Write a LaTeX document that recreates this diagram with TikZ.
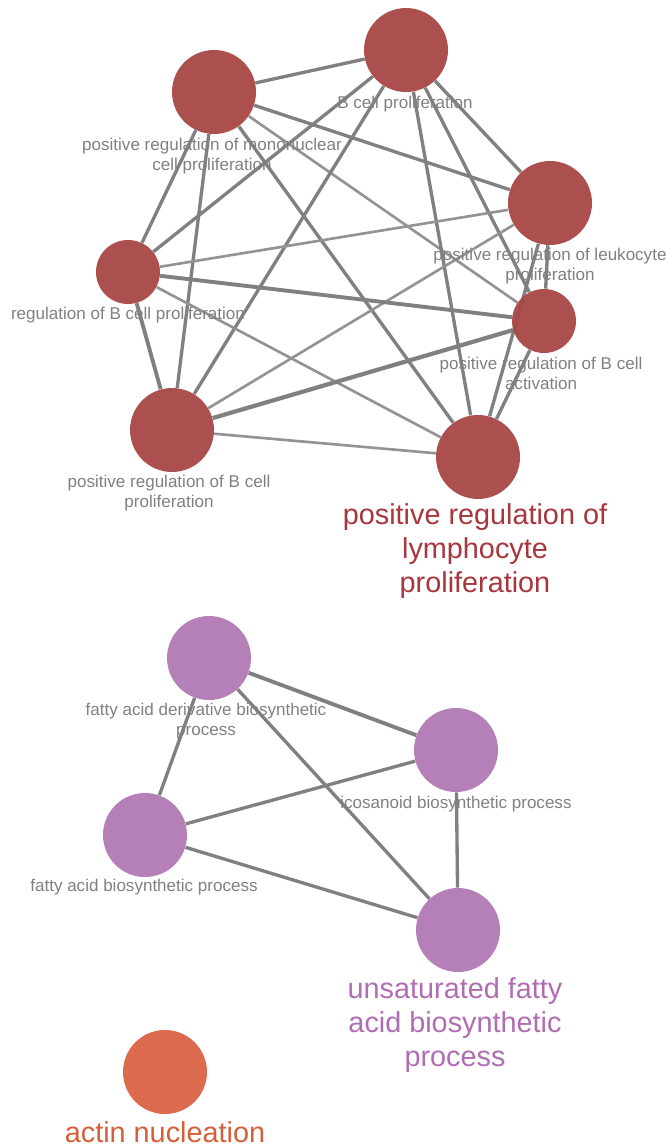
\documentclass[tikz,border=0pt]{standalone}
\usepackage{fontspec}
\setmainfont{Liberation Sans}
\usetikzlibrary{backgrounds}
\definecolor{termred}{HTML}{A84646}
\definecolor{textred}{HTML}{A8363D}
\definecolor{termpurple}{HTML}{B178B3}
\definecolor{textpurple}{HTML}{B06DB3}
\definecolor{termorange}{HTML}{D96244}
\definecolor{textorange}{HTML}{D45F3B}
\definecolor{linkgrey}{HTML}{808080}
\definecolor{lblgrey}{HTML}{808080}
\tikzset{
	term/.style={circle, minimum size=1.68cm, inner sep=0pt, fill opacity=0.95},
	smallterm/.style={term, minimum size=1.28cm},
	link/.style={draw=linkgrey, line width=1.9pt},
	thinlink/.style={draw=linkgrey!85, line width=1.5pt},
	lbl/.style={align=center, text=lblgrey, font=\fontsize{9.7}{11.4}\selectfont, inner sep=0pt},
	biglbl/.style={align=center, font=\fontsize{16.4}{19.4}\selectfont, inner sep=0pt}
}
\begin{document}
\begin{tikzpicture}[x=0.02cm, y=-0.02cm]
	\useasboundingbox (0, 0) rectangle (666, 1146);
	% Nodes:
	\node[term, fill=termred] (mono) at (214, 92){};
	\node[term, fill=termred] (bprol) at (406, 50){};
	\node[term, fill=termred] (leuko) at (550, 203){};
	\node[smallterm, fill=termred] (regb) at (128, 272){};
	\node[smallterm, fill=termred] (bact) at (544, 321){};
	\node[term, fill=termred] (posb) at (172, 430){};
	\node[term, fill=termred] (lympho) at (478, 457){};
	\node[term, fill=termpurple] (fderiv) at (209, 658){};
	\node[term, fill=termpurple] (icosa) at (456, 750){};
	\node[term, fill=termpurple] (fatty) at (145, 835){};
	\node[term, fill=termpurple] (unsat) at (458, 930){};
	\node[term, fill=termorange] (actin) at (165, 1072){};
	% Edges:
	\begin{pgfonlayer}{background}
		\draw[link] (mono) -- (bprol);
		\draw[link] (mono) -- (leuko);
		\draw[link] (mono) -- (regb);
		\draw[link] (mono) -- (posb);
		\draw[link] (mono) -- (lympho);
		\draw[thinlink] (mono) -- (bact);
		\draw[link] (bprol) -- (regb);
		\draw[link] (bprol) -- (posb);
		\draw[link] (bprol) -- (lympho);
		\draw[link] (bprol) -- (bact);
		\draw[link] (bprol) -- (leuko);
		\draw[thinlink] (leuko) -- (regb);
		\draw[thinlink] (leuko) -- (posb);
		\draw[link] (leuko) -- (bact);
		\draw[link] (leuko) -- (lympho);
		\draw[link, line width=2.2pt] (regb) -- (bact);
		\draw[link, line width=2.2pt] (regb) -- (posb);
		\draw[thinlink] (regb) -- (lympho);
		\draw[link, line width=2.4pt] (posb) -- (bact);
		\draw[thinlink] (posb) -- (lympho);
		\draw[link] (bact) -- (lympho);
		\draw[link, line width=2.2pt] (fderiv) -- (icosa);
		\draw[link] (fderiv) -- (fatty);
		\draw[link] (fderiv) -- (unsat);
		\draw[link] (icosa) -- (fatty);
		\draw[link] (icosa) -- (unsat);
		\draw[link] (fatty) -- (unsat);
	\end{pgfonlayer}
	% Labels:
	\node[lbl] (bprolL) at (405, 104){B cell proliferation};
	\node[lbl] (monoL) at (212, 156){positive regulation of mononuclear\\cell proliferation};
	\node[lbl] (leukoL) at (550, 266){positive regulation of leukocyte\\proliferation};
	\node[lbl] (regbL) at (128, 315){regulation of B cell proliferation};
	\node[lbl] (bactL) at (541, 373){positive regulation of B cell\\activation};
	\node[lbl] (posbL) at (169, 493){positive regulation of B cell\\proliferation};
	\node[biglbl, text=textred] (lymphoL) at (475, 551){positive regulation of\\lymphocyte\\proliferation};
	\node[lbl] (fderivL) at (206, 721){fatty acid derivative biosynthetic\\process};
	\node[lbl] (icosaL) at (456, 804){icosanoid biosynthetic process};
	\node[lbl] (fattyL) at (144, 887){fatty acid biosynthetic process};
	\node[biglbl, text=textpurple] (unsatL) at (455, 1025){unsaturated fatty\\acid biosynthetic\\process};
	\node[biglbl, text=textorange] (actinL) at (165, 1132){actin nucleation};
\end{tikzpicture}
\end{document}
